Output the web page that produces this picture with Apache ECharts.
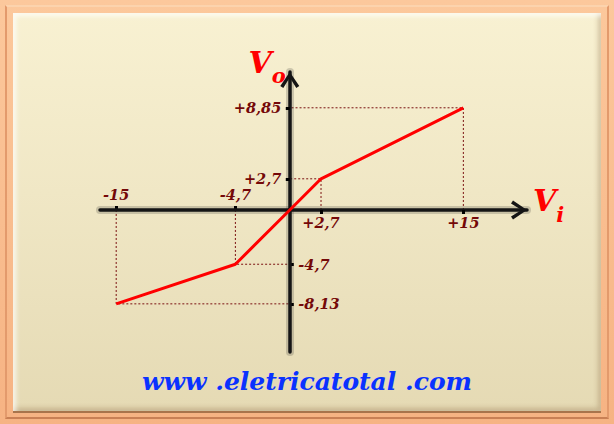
<!DOCTYPE html>
<html><head><meta charset="utf-8">
<script src="https://cdn.jsdelivr.net/npm/echarts@6/dist/echarts.min.js"></script>
<style>
html,body{margin:0;padding:0;}
#frame{position:relative;width:614px;height:424px;overflow:hidden;background:linear-gradient(to bottom,#fcc89c,#f6b383);}
#frame:before{content:'';position:absolute;left:5px;top:5px;right:5px;bottom:5px;border:2px solid;border-color:#fcd3ad #e39a6c #c98055 #e39a6c;}
#panel{position:absolute;left:13px;top:13px;width:588px;height:398px;background:linear-gradient(to bottom,#f8f1d2 0%,#f0e7c5 45%,#e5dab4 100%);box-shadow:0 2px 0 #a8744c,inset 3px 3px 5px rgba(255,255,255,.75),inset -3px -3px 5px rgba(120,80,40,.28);}
#chart{position:absolute;left:0;top:0;width:614px;height:424px;}
</style></head><body>
<div id="frame"><div id="panel"></div><div id="chart"></div></div>
<script>
// Transfer characteristic data
const vi = [-15, -4.7, 0, 2.7, 15];
const vo = [-8.13, -4.7, 0, 2.7, 8.85];
// Tick values (labels formatted with sign and comma)
const xTicksAbove = [-15, -4.7];
const xTicksBelow = [2.7, 15];
const yTicksLeft = [8.85, 2.7];
const yTicksRight = [-4.7, -8.13];

const fmt = v => (v > 0 ? '+' : '') + String(v).replace('.', ',');
const FONT = 'DejaVu Serif';
const textStyle = {color: '#740808', opacity: 1, fontFamily: FONT, fontStyle: 'italic', fontWeight: 'bold', fontSize: 14.5, textBorderWidth: 0};
const tickStyle = {show: true, length: 4, lineStyle: {color: '#000', width: 3}};
const axisLineStyle = {color: '#151515', width: 3.5};
const haloStyle = {color: 'rgba(40,40,40,0.2)', width: 8};
const chevron = 'path://M0,14 L9.5,0 L19,14 L16,16 L9.5,5.5 L3,16 Z';
const nameRich = {
  v: {fontSize: 30, lineHeight: 30, color: '#ff0000', fontFamily: FONT, fontStyle: 'italic', fontWeight: 'bold', padding: [0, 0, 9, 0], verticalAlign: 'bottom'},
  s: {fontSize: 21, lineHeight: 21, color: '#ff0000', fontFamily: FONT, fontStyle: 'italic', fontWeight: 'bold', verticalAlign: 'bottom'}
};

const points = vi.map((x, i) => [x, vo[i]]);
const guideSeries = points.filter(p => p[0] !== 0).map(p => ({
  type: 'line', xAxisIndex: 0, yAxisIndex: 0, silent: true, symbol: 'none', z: 1,
  data: [[p[0], 0], [p[0], p[1]], [0, p[1]]],
  lineStyle: {color: '#7a1010', width: 1, type: [2, 2]}
}));

function labelSeries(data, position, distance) {
  return {
    type: 'scatter', xAxisIndex: 0, yAxisIndex: 0, silent: true, z: 4,
    symbolSize: 1, itemStyle: {color: 'rgba(0,0,0,0)'},
    data: data,
    label: Object.assign({show: true, position: position, distance: distance,
      formatter: p => fmt(position === 'left' || position === 'right' ? p.value[1] : p.value[0])}, textStyle)
  };
}
const tickLabelSeries = [
  labelSeries(xTicksAbove.map(v => [v, 0]), 'top', 7),
  labelSeries(xTicksBelow.map(v => [v, 0]), 'bottom', 5),
  labelSeries(yTicksLeft.map(v => [0, v]), 'left', 8),
  labelSeries(yTicksRight.map(v => [0, v]), 'right', 8)
];

const xRange = {min: -16.4, max: 20.5};
const yRange = {min: -12.3, max: 11.95};

const chart = echarts.init(document.getElementById('chart'), null, {renderer: 'svg'});
chart.setOption({
  animation: false,
  backgroundColor: 'transparent',
  title: {
    text: 'www .eletricatotal .com', left: 'center', top: 364,
    textStyle: {color: '#0a32ff', fontFamily: FONT, fontStyle: 'italic', fontWeight: 'bold', fontSize: 25}
  },
  grid: {left: 100, right: 87, top: 72, bottom: 72, containLabel: false, outerBoundsMode: 'none'},
  xAxis: [
    Object.assign({
      type: 'value', position: 'bottom',
      name: '{v|V}{s|i}', nameLocation: 'end', nameGap: 6, nameMoveOverlap: false,
      nameTextStyle: {rich: nameRich},
      axisLine: {show: true, onZero: true, onZeroAxisIndex: 0, lineStyle: axisLineStyle,
        symbol: ['none', chevron], symbolSize: [19, 17], symbolOffset: [0, -8]},
      axisTick: Object.assign({customValues: xTicksBelow}, tickStyle),
      axisLabel: {show: false},
      splitLine: {show: false}, z: 3
    }, xRange),
    Object.assign({
      type: 'value', position: 'top',
      axisLine: {show: true, onZero: true, onZeroAxisIndex: 0, lineStyle: haloStyle},
      axisTick: Object.assign({customValues: xTicksAbove}, tickStyle),
      axisLabel: {show: false},
      splitLine: {show: false}, z: 2
    }, xRange)
  ],
  yAxis: [
    Object.assign({
      type: 'value', position: 'left',
      name: '{v|V}{s|o}', nameLocation: 'end', nameGap: -14, nameMoveOverlap: false,
      nameTextStyle: {rich: nameRich, align: 'right', verticalAlign: 'bottom', padding: [0, 4, 0, 0]},
      axisLine: {show: true, onZero: true, onZeroAxisIndex: 0, lineStyle: axisLineStyle,
        symbol: ['none', chevron], symbolSize: [19, 17], symbolOffset: [0, -8]},
      axisTick: Object.assign({customValues: yTicksLeft}, tickStyle),
      axisLabel: {show: false},
      splitLine: {show: false}, z: 3
    }, yRange),
    Object.assign({
      type: 'value', position: 'right',
      axisLine: {show: true, onZero: true, onZeroAxisIndex: 0, lineStyle: haloStyle},
      axisTick: Object.assign({customValues: yTicksRight}, tickStyle),
      axisLabel: {show: false},
      splitLine: {show: false}, z: 2
    }, yRange)
  ],
  series: guideSeries.concat([{
    type: 'line', name: 'Vo', xAxisIndex: 0, yAxisIndex: 0, symbol: 'none', z: 3,
    data: points,
    lineStyle: {color: '#ff0000', width: 3}
  }], tickLabelSeries)
});
</script>
</body></html>
